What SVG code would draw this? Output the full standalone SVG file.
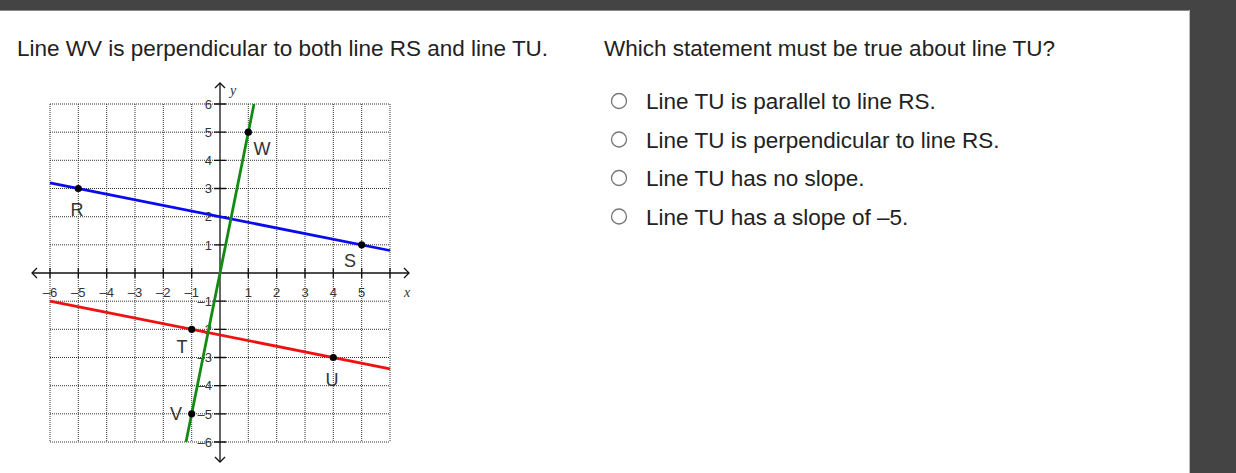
<svg xmlns="http://www.w3.org/2000/svg" width="1236" height="473" viewBox="0 0 1236 473">
<style>
.q{font-family:"Liberation Sans",Arial,sans-serif;font-size:22.5px;fill:#222}
.tk{font-family:"Liberation Sans",Arial,sans-serif;font-size:13px;fill:#333}
.tx{text-anchor:middle}
.ty{text-anchor:end}
.pl{font-family:"Liberation Sans",Arial,sans-serif;font-size:18px;fill:#333;text-anchor:middle}
.ax{font-family:"Liberation Serif","Times New Roman",serif;font-style:italic;font-size:14px;fill:#333;text-anchor:middle}
.grid{stroke:#333;stroke-width:1;stroke-dasharray:1 1;fill:none}
.axis{stroke:#111;stroke-width:1.3;fill:none}
.pt{fill:#000}
.rb{fill:#fff;stroke:#777;stroke-width:1.3}
</style>
<rect x="0" y="0" width="1236" height="473" fill="#fff"/>
<rect x="0" y="0" width="1236" height="10" fill="#444"/>
<line x1="0" y1="10.5" x2="1190" y2="10.5" stroke="#888" stroke-width="1"/>
<rect x="1190" y="0" width="46" height="473" fill="#444"/>
<line x1="1189.5" y1="10" x2="1189.5" y2="473" stroke="#bbb" stroke-width="1"/>

<g id="question-left">
<text class="q" x="17" y="56">Line WV is perpendicular to both line RS and line TU.</text>
</g>
<g id="question-right">
<text class="q" x="604" y="56">Which statement must be true about line TU?</text>
</g>
<g id="options">
<circle class="rb" cx="619" cy="101" r="7.5"/>
<text class="q" x="646" y="109">Line TU is parallel to line RS.</text>
<circle class="rb" cx="619" cy="139.5" r="7.5"/>
<text class="q" x="646" y="147.5">Line TU is perpendicular to line RS.</text>
<circle class="rb" cx="619" cy="178" r="7.5"/>
<text class="q" x="646" y="186">Line TU has no slope.</text>
<circle class="rb" cx="619" cy="216.5" r="7.5"/>
<text class="q" x="646" y="224.5">Line TU has a slope of –5.</text>
</g>

<g id="grid">
<path class="grid" d="M50 104V442M78.3 104V442M106.7 104V442M135 104V442M163.3 104V442M191.7 104V442M248.3 104V442M276.7 104V442M305 104V442M333.3 104V442M361.7 104V442M390 104V442
M50 104H390M50 132.2H390M50 160.3H390M50 188.5H390M50 216.7H390M50 244.8H390M50 301.2H390M50 329.3H390M50 357.5H390M50 385.7H390M50 413.8H390M50 442H390"/>
</g>

<g id="axes">
<line class="axis" x1="32" y1="273" x2="409" y2="273"/>
<line class="axis" x1="220" y1="83" x2="220" y2="462"/>
<polyline class="axis" points="37,268 32,273 37,278"/>
<polyline class="axis" points="404,268 409,273 404,278"/>
<polyline class="axis" points="215,88 220,83 225,88"/>
<polyline class="axis" points="215,457 220,462 225,457"/>
<path class="axis" d="M50 268V278M78.3 268V278M106.7 268V278M135 268V278M163.3 268V278M191.7 268V278M248.3 268V278M276.7 268V278M305 268V278M333.3 268V278M361.7 268V278M390 268V278
M214 104H226M214 132.2H226M214 160.3H226M214 188.5H226M214 216.7H226M214 244.8H226M214 301.2H226M214 329.3H226M214 357.5H226M214 385.7H226M214 413.8H226M214 442H226"/>
<text class="ax" x="407" y="297">x</text>
<text class="ax" x="233" y="95">y</text>
</g>

<g id="tick-labels">
<text class="tk tx" x="50" y="297">–6</text>
<text class="tk tx" x="78.3" y="297">–5</text>
<text class="tk tx" x="106.7" y="297">–4</text>
<text class="tk tx" x="135" y="297">–3</text>
<text class="tk tx" x="163.3" y="297">–2</text>
<text class="tk tx" x="191.7" y="297">–1</text>
<text class="tk tx" x="248.3" y="297">1</text>
<text class="tk tx" x="276.7" y="297">2</text>
<text class="tk tx" x="305" y="297">3</text>
<text class="tk tx" x="333.3" y="297">4</text>
<text class="tk tx" x="361.7" y="297">5</text>
<text class="tk ty" x="212" y="108.7">6</text>
<text class="tk ty" x="212" y="136.9">5</text>
<text class="tk ty" x="212" y="165">4</text>
<text class="tk ty" x="212" y="193.2">3</text>
<text class="tk ty" x="212" y="221.4">2</text>
<text class="tk ty" x="212" y="249.5">1</text>
<text class="tk ty" x="212" y="305.9">–1</text>
<text class="tk ty" x="212" y="334">–2</text>
<text class="tk ty" x="212" y="362.2">–3</text>
<text class="tk ty" x="212" y="390.4">–4</text>
<text class="tk ty" x="212" y="418.5">–5</text>
<text class="tk ty" x="212" y="446.7">–6</text>
</g>

<g id="connectors">
<line id="line-RS" x1="50" y1="182.9" x2="390" y2="250.5" stroke="#0a0af0" stroke-width="2.8"/>
<line id="line-TU" x1="50" y1="301.2" x2="390" y2="368.8" stroke="#f01010" stroke-width="2.8"/>
<line id="line-WV" x1="254" y1="104" x2="186" y2="442" stroke="#138a13" stroke-width="2.8"/>
</g>

<g id="point-R"><circle class="pt" cx="78.3" cy="188.5" r="3.6"/><text class="pl" x="77" y="216">R</text></g>
<g id="point-S"><circle class="pt" cx="361.7" cy="244.8" r="3.6"/><text class="pl" x="350" y="267">S</text></g>
<g id="point-T"><circle class="pt" cx="191.7" cy="329.3" r="3.6"/><text class="pl" x="182" y="353">T</text></g>
<g id="point-U"><circle class="pt" cx="333.3" cy="357.5" r="3.6"/><text class="pl" x="332" y="386">U</text></g>
<g id="point-W"><circle class="pt" cx="248.3" cy="132.2" r="3.6"/><text class="pl" x="262" y="155">W</text></g>
<g id="point-V"><circle class="pt" cx="191.7" cy="413.8" r="3.6"/><text class="pl" x="176" y="420">V</text></g>
</svg>
